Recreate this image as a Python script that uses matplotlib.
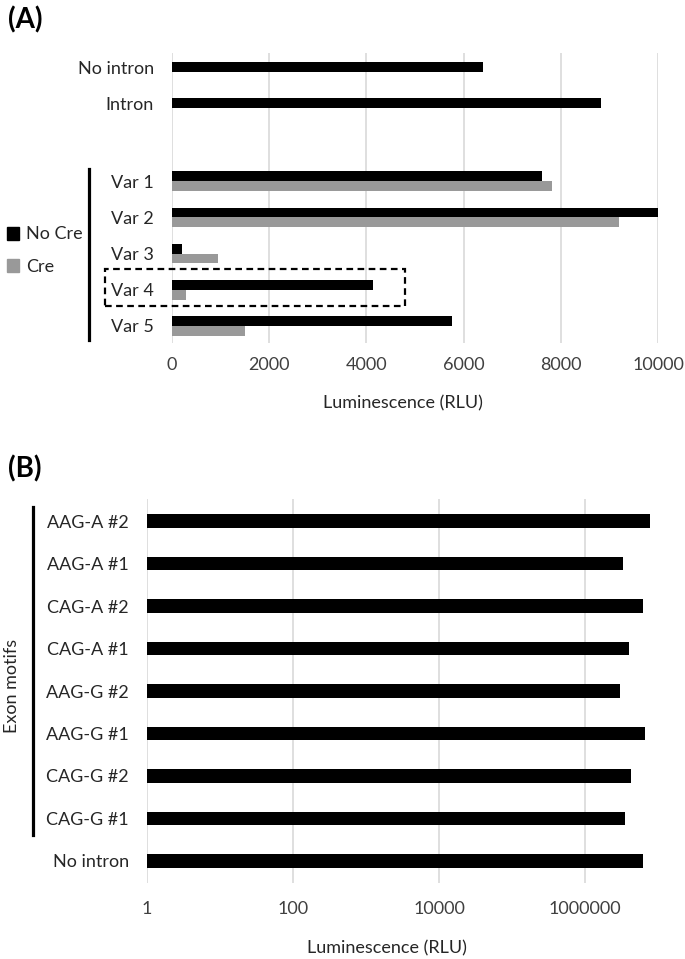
import numpy as np
import matplotlib
matplotlib.use("Agg")
import matplotlib.pyplot as plt
from matplotlib.patches import Rectangle
from matplotlib.lines import Line2D

plt.rcParams['font.family'] = ['Lato', 'DejaVu Sans']

# Panel A data (Luminescence, RLU)
a_labels = ["No intron", "Intron", "Var 1", "Var 2", "Var 3", "Var 4", "Var 5"]
a_no_cre = [6400, 8830, 7620, 10000, 200, 4140, 5770]
a_cre = [np.nan, np.nan, 7820, 9190, 950, 280, 1500]
a_ticks = [0, 2000, 4000, 6000, 8000, 10000]

# Panel B data (log scale)
b_labels = ["AAG-A #2", "AAG-A #1", "CAG-A #2", "CAG-A #1", "AAG-G #2",
            "AAG-G #1", "CAG-G #2", "CAG-G #1", "No intron"]
b_values = [7.7e6, 3.3e6, 6.3e6, 4.0e6, 3.05e6, 6.6e6, 4.3e6, 3.5e6, 6.3e6]
b_ticks = [1, 100, 10000, 1000000]

W, H = 685, 959
fig = plt.figure(figsize=(W / 100, H / 100), dpi=100)

label_col = '#262626'
tick_col = '#404040'
grid_col = '#dcdcdc'
gray = '#999999'


def px_box(left, top, right, bottom):
    # convert a pixel box into figure fractions
    return [left / W, 1 - bottom / H, (right - left) / W, (bottom - top) / H]


# ---------- Panel A ----------
axA = fig.add_axes(px_box(172, 53, 658, 343))

# row positions, blank row between Intron and the variants
a_pos = [7.15, 6.15, 4, 3, 2, 1, 0]
bh = 0.27
for p, nc, c in zip(a_pos, a_no_cre, a_cre):
    if np.isnan(c):
        axA.barh(p, nc, height=bh, color='black', zorder=3)
    else:
        axA.barh(p + bh / 2, nc, height=bh, color='black', zorder=3)
        axA.barh(p - bh / 2, c, height=bh, color=gray, zorder=3)

axA.set_xlim(0, 10000)
axA.set_ylim(-0.47, 7.54)
axA.set_xticks(a_ticks)
axA.set_xticklabels([str(t) for t in a_ticks])
axA.set_yticks(a_pos)
axA.set_yticklabels(a_labels)
axA.grid(axis='x', color=grid_col, linewidth=1.3, zorder=0)
for s in axA.spines.values():
    s.set_visible(False)
axA.tick_params(axis='x', length=0, pad=10, labelsize=13, labelcolor=tick_col)
axA.tick_params(axis='y', length=0, pad=13, labelsize=13, labelcolor=label_col)
axA.set_xlabel("Luminescence (RLU)", fontsize=13, color=label_col)
axA.xaxis.set_label_coords(0.475, -0.207)
axA.xaxis.label.set_va('center')

# dashed box around Var 4
axA.add_patch(Rectangle((-1380, 0.55), 6170, 1.02, fill=False, edgecolor='black',
                        linewidth=1.6, linestyle=(0, (3, 2)), clip_on=False, zorder=4))

# legend on the left
h1 = Rectangle((0, 0), 1, 1, color='black')
h2 = Rectangle((0, 0), 1, 1, color=gray)
fig.legend([h1, h2], ["No Cre", "Cre"], loc='center left',
           bbox_to_anchor=(7 / W, 1 - 250.5 / H), frameon=False, fontsize=13,
           handlelength=0.67, handleheight=0.72, handletextpad=0.4,
           labelspacing=0.9, borderpad=0, borderaxespad=0, labelcolor=label_col)

# bracket line for the variants
fig.add_artist(Line2D([89 / W, 89 / W], [1 - 169 / H, 1 - 340 / H], color='black',
                      linewidth=2.3, transform=fig.transFigure))

fig.text(8 / W, 1 - 20 / H, "(A)", fontsize=20, fontweight='bold', va='center', ha='left')

# ---------- Panel B ----------
axB = fig.add_axes(px_box(147, 499, 658, 883))
b_pos = np.arange(len(b_labels))[::-1]
axB.barh(b_pos, [v - 1 for v in b_values], left=1, height=0.32, color='black', zorder=3)
axB.set_xscale('log')
axB.set_xlim(1, 1e7)
axB.set_ylim(-0.52, 8.52)
axB.set_xticks(b_ticks)
axB.set_xticklabels([str(t) for t in b_ticks])
axB.xaxis.set_minor_locator(matplotlib.ticker.NullLocator())
axB.set_yticks(b_pos)
axB.set_yticklabels(b_labels)
axB.grid(axis='x', which='major', color=grid_col, linewidth=1.3, zorder=0)
for s in axB.spines.values():
    s.set_visible(False)
axB.tick_params(axis='x', length=0, pad=13, labelsize=13, labelcolor=tick_col)
axB.tick_params(axis='y', length=0, pad=13, labelsize=13, labelcolor=label_col)
axB.set_xlabel("Luminescence (RLU)", fontsize=13, color=label_col)
axB.xaxis.set_label_coords(0.47, -0.169)
axB.xaxis.label.set_va('center')

fig.add_artist(Line2D([33 / W, 33 / W], [1 - 507 / H, 1 - 835 / H], color='black',
                      linewidth=2.3, transform=fig.transFigure))
fig.text(12 / W, 1 - 686 / H, "Exon motifs", rotation=90, fontsize=13,
         color=label_col, ha='center', va='center')

fig.text(8 / W, 1 - 469 / H, "(B)", fontsize=20, fontweight='bold', va='center', ha='left')

fig.savefig("out.png", dpi=100)
